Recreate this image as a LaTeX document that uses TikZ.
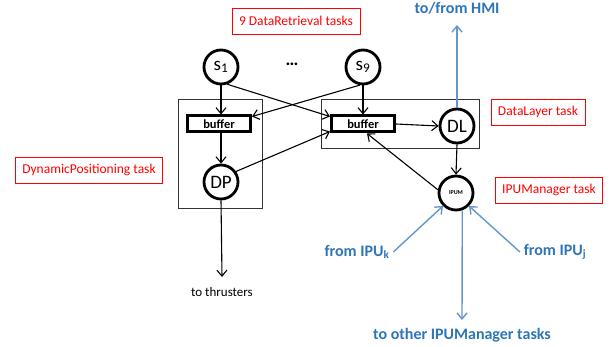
\documentclass[tikz,border=0pt]{standalone}
\usepackage{fontspec}
\setmainfont{Carlito}
\usetikzlibrary{positioning, arrows.meta, calc}
\definecolor{hmiblue}{RGB}{46,117,182}
\definecolor{linkblue}{RGB}{100,150,205}

\begin{document}
\begin{tikzpicture}[x=1pt, y=-1pt,
                >={Straight Barb[length=6pt,width=10pt]},
                line width=1.1pt,
                task/.style={circle, minimum size=34pt, inner sep=0pt, draw=black, line width=2.8pt, font=\fontsize{19}{21}\selectfont},
                bufferbox/.style={draw=black, line width=3pt, minimum width=63pt, minimum height=16pt, inner sep=0pt, font=\bfseries\fontsize{12.5}{14}\selectfont},
                group/.style={draw=black!80, line width=0.8pt},
                tasklabel/.style={draw=red, text=red, line width=0.8pt, inner xsep=7pt, minimum height=26pt, font=\fontsize{13.5}{15}\selectfont},
                bluelabel/.style={text=hmiblue, font=\bfseries\fontsize{16}{18}\selectfont},
                bluelink/.style={->, draw=linkblue, line width=1.4pt}
                ]
    \useasboundingbox (0,0) rectangle (613,347);

    % Task groups
    \draw[group] (178,99) rectangle (262,208);
    \draw[group] (321,99) rectangle (479,148);

    % Nodes
    \node[task] (s1) at (221,67) {s\textsubscript{1}};
    \node[task] (s9) at (363,67) {s\textsubscript{9}};
    \node[font=\bfseries\fontsize{18}{20}\selectfont] (dots) at (292,64) {\dots};
    \node[bufferbox] (buf1) at (219,124) {buffer};
    \node[bufferbox] (buf2) at (363,124) {buffer};
    \node[task] (dp) at (221,182) {DP};
    \node[task] (dl) at (457,126) {DL};
    \node[task, font=\bfseries\fontsize{6}{7}\selectfont] (ipum) at (456,193) {IPUM};

    % Labels
    \node[tasklabel] (retrieval) at (296,21) {9 DataRetrieval tasks};
    \node[tasklabel] (layer) at (538,112) {DataLayer task};
    \node[tasklabel] (manager) at (549,190) {IPUManager task};
    \node[tasklabel] (positioning) at (89,170) {DynamicPositioning task};
    \node[font=\fontsize{13}{15}\selectfont] (thrusters) at (222,292) {to thrusters};
    \node[bluelabel] (hmi) at (457,8) {to/from HMI};
    \node[bluelabel] (ipuk) at (357,252) {from IPU\textsubscript{k}};
    \node[bluelabel] (ipuj) at (555,252) {from IPU\textsubscript{j}};
    \node[bluelabel] (others) at (462,335) {to other IPUManager tasks};
    \coordinate (thrustend) at (222,277);
    \coordinate (hmiend) at (457,25);
    \coordinate (otherend) at (462,320);

    % Paths
    \draw[->] (s1.south) -- (s1.south |- buf1.north);
    \draw[->] (s9.south) -- (s9.south |- buf2.north);
    \draw[->] (s1.-70) -- ([yshift=-2pt]buf2.north west);
    \draw[->] (s9.-100) -- ([yshift=-2pt]buf1.north east);
    \draw[->] (buf1.south -| dp.north) -- (dp.north);
    \draw[->] (dp.35) -- ([yshift=2pt]buf2.south west);
    \draw[->] (buf2.east) -- (dl.west);
    \draw[->] (dl.south) -- (ipum.north);
    \draw[->] (ipum.170) -- ([xshift=4pt]buf2.south);
    \draw[->] (dp.south) -- (thrustend);

    \draw[bluelink] (dl.north) -- (hmiend);
    \draw[bluelink] (ipuk.east) -- (ipum.225);
    \draw[bluelink] (ipuj.west) -- (ipum.-45);
    \draw[bluelink] (ipum.-70) -- (otherend);
\end{tikzpicture}
\end{document}
